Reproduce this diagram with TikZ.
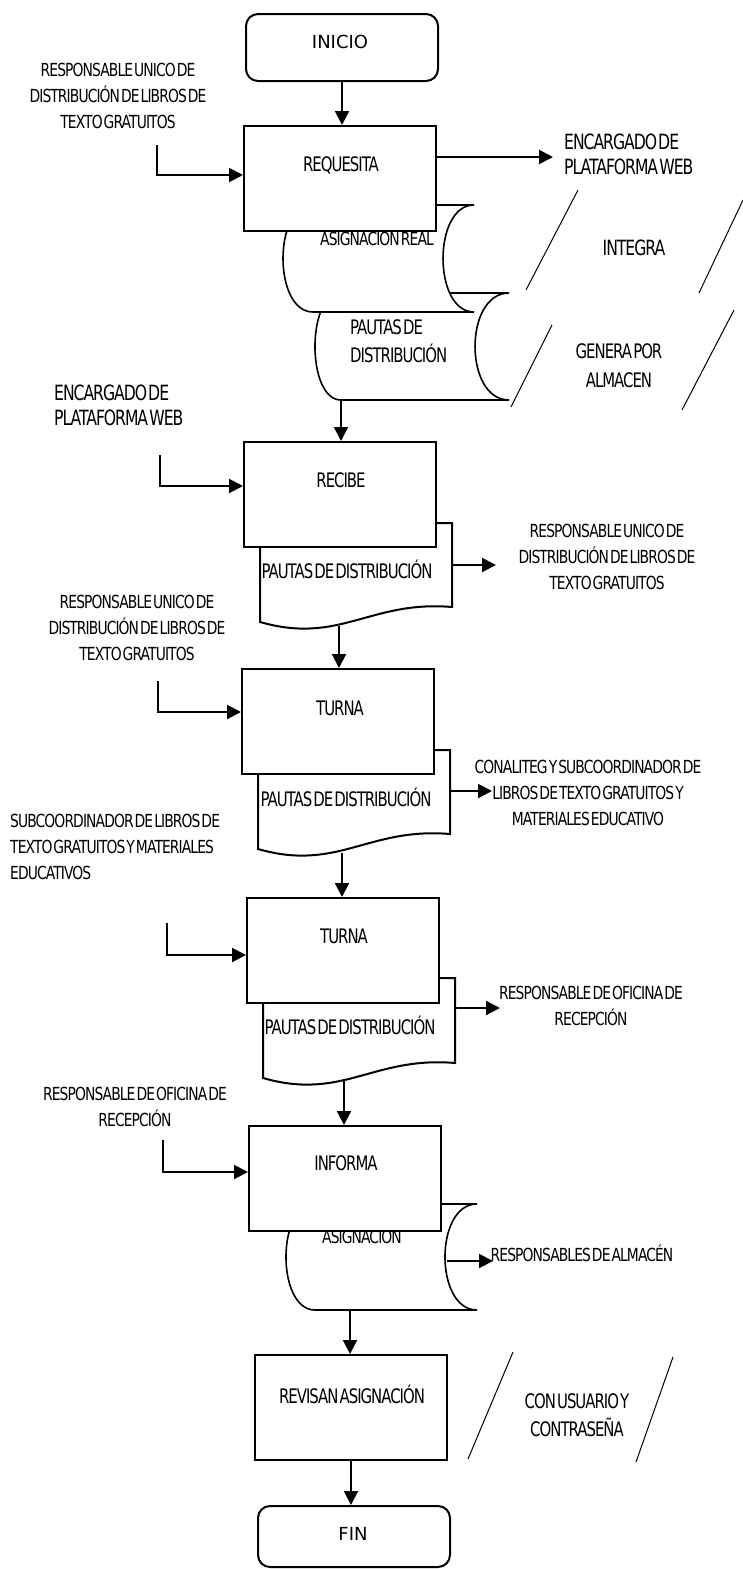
\documentclass[tikz,border=0pt]{standalone}
\usepackage{fontspec}
\setmainfont{DejaVu Sans}
\newfontfamily\cf{DejaVu Sans}[FakeStretch=0.745,LetterSpace=-5,WordSpace=0.3]
\newfontfamily\cl{DejaVu Sans}[FakeStretch=0.77,LetterSpace=-5,WordSpace=0.3]
\usetikzlibrary{arrows.meta}
\begin{document}
\begin{tikzpicture}[x=1pt,y=-1pt,
  box/.style={draw,line width=2pt,fill=white,minimum width=192pt,minimum height=105pt,inner sep=0pt,anchor=north west},
  term/.style={box,rounded corners=12pt,minimum height=67pt},
  arr/.style={line width=2pt,-{Triangle[length=14pt,width=14pt]}},
  ln/.style={line width=1pt},
  sd/.style={draw,line width=1.6pt,fill=white},
  doc/.style={draw,line width=2pt,fill=white},
  bt/.style={font=\cf\fontsize{20}{24}\selectfont,inner sep=0pt},
  tt/.style={font=\fontsize{18}{22}\selectfont,inner sep=0pt},
  lbl/.style={font=\cl\fontsize{18}{26}\selectfont,align=center,inner sep=0pt},
  big/.style={font=\cf\fontsize{21}{25}\selectfont,align=left,inner sep=0pt}]
\useasboundingbox (0,0) rectangle (742,1569);
\fill[white] (0,0) rectangle (742,1569);

% ---------- INICIO ----------
\node[term] (ini) at (245,13) {};
\node[tt] (tini) at (340,42) {INICIO};

% ---------- stored data shapes behind REQUESITA ----------
\path[sd] (341,293) -- (509,293) .. controls (463.7,293) and (463.7,400) .. (509,400)
  -- (341,400) .. controls (306.3,400) and (306.3,293) .. (341,293) -- cycle;
\path[sd] (313,205) -- (474,205) .. controls (432.7,205) and (432.7,312) .. (474,312)
  -- (313,312) .. controls (273,312) and (273,205) .. (313,205) -- cycle;
\node[lbl] (tasr) at (377,239) {ASIGNACION REAL};
\node[big,font=\cf\fontsize{20}{28}\selectfont] (tpd) at (350,341) [anchor=west] {PAUTAS DE\\DISTRIBUCIÓN};
\coordinate (s2b) at (341,400);

% ---------- REQUESITA ----------
\node[box] (req) at (243,125) {};
\node[bt] (treq) at (341,165) {REQUESITA};
\node[lbl] (l1) at (118,96) {RESPONSABLE UNICO DE\\DISTRIBUCIÓN DE LIBROS DE\\TEXTO GRATUITOS};
\coordinate (a1) at (157,145); \coordinate (a1b) at (157,175);
\draw[arr] (a1) -- (a1b) -- (a1b -| req.west);
\coordinate (r1) at (553,157);
\draw[arr] (req.east |- r1) -- (r1);
\node[big] (r1t) at (564,154) [anchor=west] {ENCARGADO DE\\PLATAFORMA WEB};
\draw[arr] (ini.south) -- (ini.south |- req.north);

% parallelograms
\coordinate (p1a) at (578,190); \coordinate (p1b) at (526,290);
\coordinate (p1c) at (743,200); \coordinate (p1d) at (699,293);
\draw[ln] (p1a) -- (p1b); \draw[ln] (p1c) -- (p1d);
\node[big] (tint) at (634,248) {INTEGRA};
\coordinate (p2a) at (552,325); \coordinate (p2b) at (511,407);
\coordinate (p2c) at (734,310); \coordinate (p2d) at (682,410);
\draw[ln] (p2a) -- (p2b); \draw[ln] (p2c) -- (p2d);
\node[big,align=center,font=\cf\fontsize{20}{29}\selectfont] (tgen) at (619,366) {GENERA POR\\ALMACEN};

% ---------- RECIBE ----------
\path[doc] (260,523) -- (452,523) -- (452,607) .. controls (370,600) and (340,645) .. (260,622) -- cycle;
\node[box] (rec) at (243,441) {};
\node[bt] (trec) at (341,480) {RECIBE};
\node[bt] (td1) at (347,569) {PAUTAS DE DISTRIBUCIÓN};
\draw[arr] (s2b) -- (s2b |- rec.north);
\node[big] (l2) at (54,405) [anchor=west] {ENCARGADO DE\\PLATAFORMA WEB};
\coordinate (a2) at (160,455); \coordinate (a2b) at (160,486);
\draw[arr] (a2) -- (a2b) -- (a2b -| rec.west);
\coordinate (d1r) at (452,565); \coordinate (d1t) at (496,565);
\draw[arr] (d1r) -- (d1t);
\node[lbl] (r2) at (607,557) {RESPONSABLE UNICO DE\\DISTRIBUCIÓN DE LIBROS DE\\TEXTO GRATUITOS};
\coordinate (d1b) at (339,626);

% ---------- TURNA 1 ----------
\path[doc] (258,750) -- (450,750) -- (450,834) .. controls (368,827) and (338,872) .. (258,849) -- cycle;
\node[box] (tu1) at (241,668) {};
\node[bt] (ttu1) at (340,708) {TURNA};
\node[bt] (td2) at (346,797) {PAUTAS DE DISTRIBUCIÓN};
\draw[arr] (d1b) -- (d1b |- tu1.north);
\node[lbl] (l3) at (137,628) {RESPONSABLE UNICO DE\\DISTRIBUCIÓN DE LIBROS DE\\TEXTO GRATUITOS};
\coordinate (a3) at (158,681); \coordinate (a3b) at (158,712);
\draw[arr] (a3) -- (a3b) -- (a3b -| tu1.west);
\coordinate (d2r) at (450,791); \coordinate (d2t) at (492,791);
\node[lbl] (r3) at (588,793) {CONALITEG Y SUBCOORDINADOR DE\\LIBROS DE TEXTO GRATUITOS Y\\MATERIALES EDUCATIVO};
\draw[arr] (d2r) -- (d2t);
\coordinate (d2b) at (342,853);

% ---------- TURNA 2 ----------
\path[doc] (263,978) -- (455,978) -- (455,1063) .. controls (373,1056) and (343,1101) .. (263,1078) -- cycle;
\node[box] (tu2) at (246,897) {};
\node[bt] (ttu2) at (344,936) {TURNA};
\node[bt] (td3) at (350,1025) {PAUTAS DE DISTRIBUCIÓN};
\draw[arr] (d2b) -- (d2b |- tu2.north);
\node[lbl,align=left] (l4) at (10,847) [anchor=west] {SUBCOORDINADOR DE LIBROS DE\\TEXTO GRATUITOS Y MATERIALES\\EDUCATIVOS};
\coordinate (a4) at (167,923); \coordinate (a4b) at (167,955);
\draw[arr] (a4) -- (a4b) -- (a4b -| tu2.west);
\coordinate (d3r) at (455,1008); \coordinate (d3t) at (500,1008);
\draw[arr] (d3r) -- (d3t);
\node[lbl] (r4) at (591,1006) {RESPONSABLE DE OFICINA DE\\RECEPCIÓN};
\coordinate (d3b) at (344,1080);

% ---------- INFORMA ----------
\path[sd] (315,1204) -- (477,1204) .. controls (434.3,1204) and (434.3,1310) .. (477,1310)
  -- (315,1310) .. controls (276.3,1310) and (276.3,1204) .. (315,1204) -- cycle;
\node[lbl] (tas) at (362,1237) {ASIGNACION};
\node[box] (inf) at (248,1125) {};
\node[bt] (tinf) at (346,1163) {INFORMA};
\draw[arr] (d3b) -- (d3b |- inf.north);
\node[lbl] (l5) at (135,1107) {RESPONSABLE DE OFICINA DE\\RECEPCIÓN};
\coordinate (a5) at (163,1140); \coordinate (a5b) at (163,1172);
\draw[arr] (a5) -- (a5b) -- (a5b -| inf.west);
\coordinate (s3r) at (447,1261); \coordinate (s3t) at (493,1261);
\draw[arr] (s3r) -- (s3t);
\node[lbl] (r5) at (582,1253) {RESPONSABLES DE ALMACÉN};
\coordinate (s3b) at (350,1310);

% ---------- REVISAN ----------
\node[box] (rev) at (254,1354) {};
\node[bt] (trev) at (352,1394) {REVISAN ASIGNACIÓN};
\draw[arr] (s3b) -- (s3b |- rev.north);
\coordinate (p3a) at (513,1352); \coordinate (p3b) at (468,1459);
\coordinate (p3c) at (673,1357); \coordinate (p3d) at (636,1462);
\draw[ln] (p3a) -- (p3b); \draw[ln] (p3c) -- (p3d);
\node[big,align=center,font=\cf\fontsize{20}{28}\selectfont] (tcon) at (577,1415) {CON USUARIO Y\\CONTRASEÑA};

% ---------- FIN ----------
\node[term,minimum height=61pt] (fin) at (257,1505) {};
\node[tt] (tfin) at (353,1534) {FIN};
\draw[arr] (rev.south) -- (rev.south |- fin.north);
\end{tikzpicture}
\end{document}
